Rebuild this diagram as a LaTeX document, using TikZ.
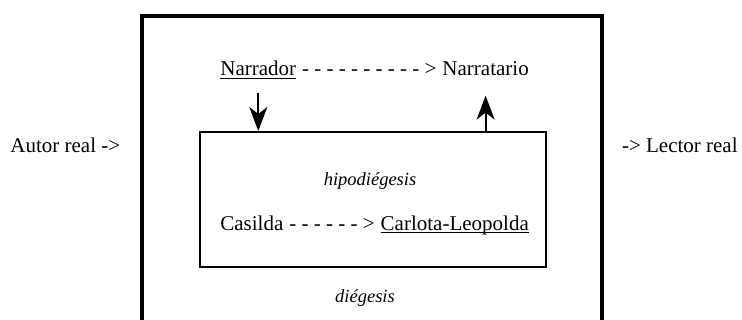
\documentclass[tikz,border=0pt]{standalone}
\usepackage{fontspec}
\setmainfont{Liberation Serif}
\usetikzlibrary{positioning,arrows.meta}

% Underline close to the baseline, ignoring descenders
\newcommand{\subrayado}[1]{\underline{\smash{#1}}}

\tikzset{
  texto/.style={inner sep=0pt, font=\fontsize{10.5}{12.6}\selectfont},
  nivel/.style={inner sep=0pt, font=\fontsize{9.25}{11}\selectfont\itshape},
  flecha/.style={line width=1pt, -{Stealth[length=12pt,width=9pt,inset=3.5pt]}},
}

\begin{document}
\begin{tikzpicture}[x=0.5pt,y=-0.5pt]
    \def\marcoL{142}   % Left side of the diegesis frame
    \def\marcoR{602}   % Right side of the diegesis frame
    \def\marcoT{16}    % Top of the diegesis frame
    \def\espacio{2.6pt} % Word space

    \useasboundingbox (0,0) rectangle (742,320);

    % Draw the diegesis frame (open at the bottom)
    \draw[line width=2pt] (\marcoL,320) -- (\marcoL,\marcoT) -- (\marcoR,\marcoT) -- (\marcoR,320);

    % Draw the hypodiegesis box
    \node[draw, line width=1pt, minimum width=173pt, minimum height=67.5pt, inner sep=0pt] (hipo) at (373,199.5) {};

    % Narrator line
    \node[texto, anchor=base west] (narrador) at (220,76) {\subrayado{Narrador}};
    \node[texto, base right=\espacio of narrador] (guiones) {- - - - - - - - - - >};
    \node[texto, base right=\espacio of guiones] (narratario) {Narratario};

    % Embedded narrator line
    \node[texto, anchor=base west] (casilda) at (220,230) {Casilda};
    \node[texto, base right=\espacio of casilda] (guiones2) {- - - - - - >};
    \node[texto, base right=\espacio of guiones2] (carlota) {\subrayado{Carlota-Leopolda}};

    % Level labels
    \node[nivel, anchor=base] (hipodiegesis) at (370,185) {hipodiégesis};
    \node[nivel, anchor=base] (diegesis) at (365,302) {diégesis};

    % Real author and reader
    \node[texto, anchor=base west] (autor) at (10,153) {Autor real ->};
    \node[texto, anchor=base east] (lector) at (738,153) {-> Lector real};

    % Arrows into and out of the hypodiegesis
    \draw[flecha, shorten <=6.5pt] (narrador.south) -- (narrador.south |- hipo.north);
    \draw[flecha, shorten >=9.5pt] (narratario.south |- hipo.north) -- (narratario.south);
\end{tikzpicture}
\end{document}
